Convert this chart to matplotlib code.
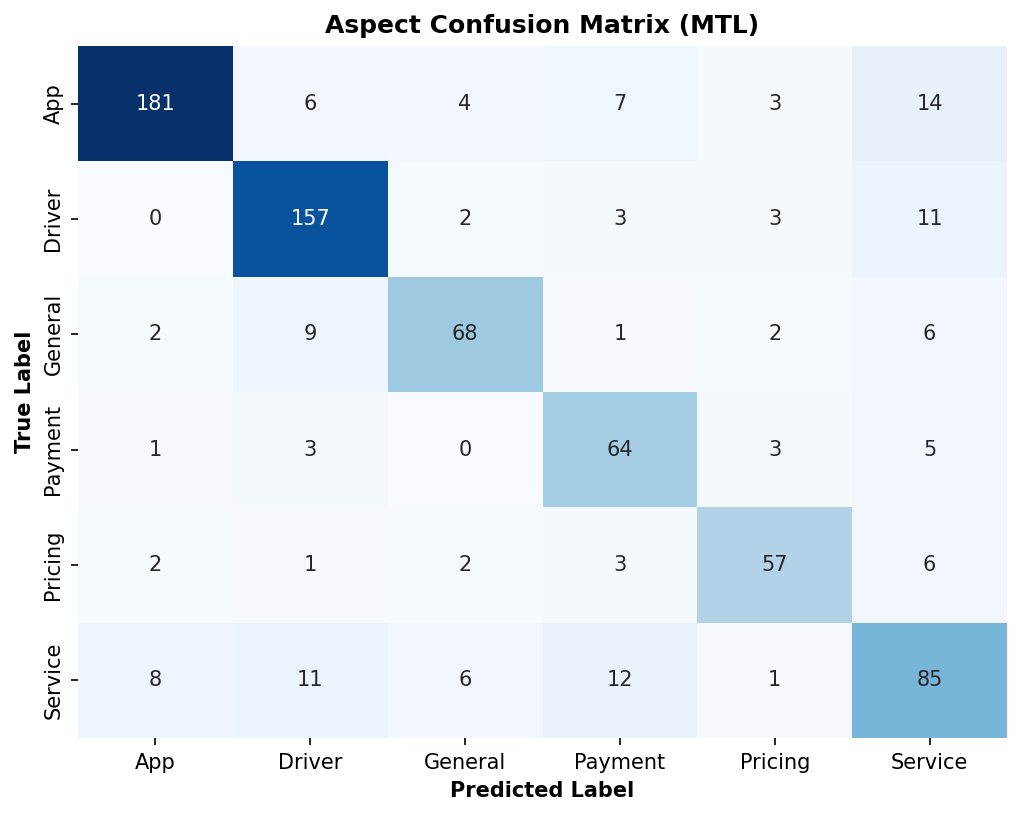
import matplotlib
matplotlib.use("Agg")
import matplotlib.pyplot as plt
import seaborn as sns
import numpy as np

labels = ["App", "Driver", "General", "Payment", "Pricing", "Service"]
cm = np.array([
    [181, 6, 4, 7, 3, 14],
    [0, 157, 2, 3, 3, 11],
    [2, 9, 68, 1, 2, 6],
    [1, 3, 0, 64, 3, 5],
    [2, 1, 2, 3, 57, 6],
    [8, 11, 6, 12, 1, 85],
])

fig, ax = plt.subplots(figsize=(1022 / 150, 817 / 150), dpi=150)
sns.heatmap(cm, annot=True, fmt="d", cmap="Blues", cbar=False,
            xticklabels=labels, yticklabels=labels, ax=ax,
            annot_kws={"fontsize": 10})
ax.set_title("Aspect Confusion Matrix (MTL)", fontsize=12, fontweight="bold")
ax.set_xlabel("Predicted Label", fontsize=10, fontweight="bold")
ax.set_ylabel("True Label", fontsize=10, fontweight="bold")
ax.tick_params(labelsize=10)
fig.subplots_adjust(left=78 / 1022, right=1007 / 1022,
                    top=1 - 46 / 817, bottom=1 - 738 / 817)
fig.savefig("out.png", dpi=150)
